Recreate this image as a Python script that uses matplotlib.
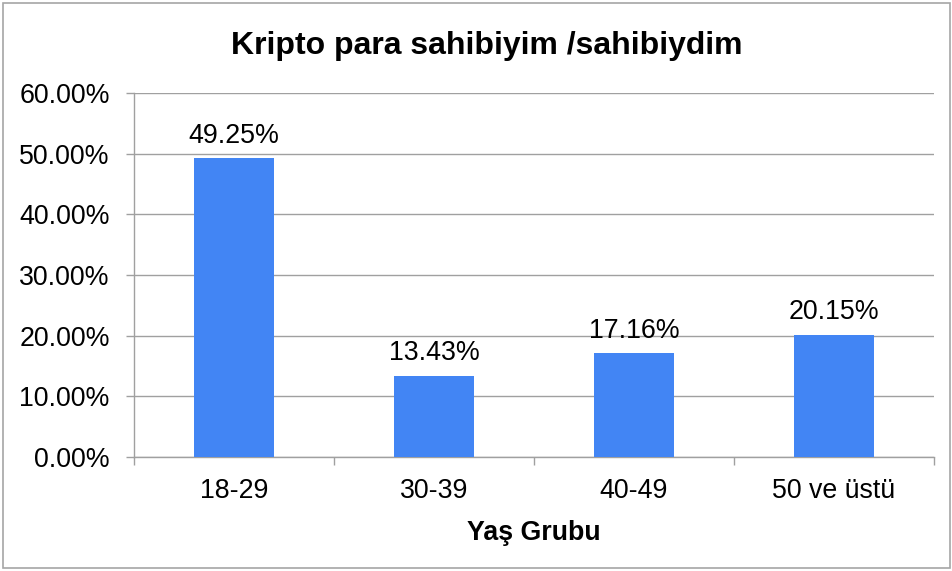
import matplotlib.pyplot as plt
from matplotlib.patches import Rectangle
from matplotlib.ticker import FixedLocator

plt.rcParams['font.family'] = ['Liberation Sans', 'DejaVu Sans']

categories = ['18-29', '30-39', '40-49', '50 ve üstü']
values = [49.25, 13.43, 17.16, 20.15]
yticks = [0, 10, 20, 30, 40, 50, 60]

W, H = 953, 571
fig = plt.figure(figsize=(W / 100, H / 100), dpi=100)
fig.patch.set_facecolor('white')
# outer chart border
fig.add_artist(Rectangle((3 / W, 3 / H), (W - 6) / W, (H - 6) / H, transform=fig.transFigure,
                         fill=False, edgecolor='#a6a6a6', linewidth=1.2))

left, right, top, bottom = 134, 934, 93, 457
ax = fig.add_axes([left / W, 1 - bottom / H, (right - left) / W, (bottom - top) / H])

grid_col = '#a0a0a0'
fs = 19.3
x = list(range(len(categories)))
ax.bar(x, values, width=0.4, color='#4285f4', zorder=3)
ax.set_xlim(-0.5, len(categories) - 0.5)
ax.set_ylim(0, 60)

ax.set_yticks(yticks)
ax.set_yticklabels([f'{v:.2f}%' for v in yticks], fontsize=fs)
ax.yaxis.grid(True, color=grid_col, linewidth=1)
ax.set_axisbelow(True)
ax.tick_params(axis='y', length=6, width=1, color=grid_col, pad=11.5)

ax.set_xticks(x)
ax.set_xticklabels(categories, fontsize=fs)
ax.tick_params(axis='x', length=0, pad=15)
ax.xaxis.set_minor_locator(FixedLocator([i - 0.5 for i in range(len(categories) + 1)]))
ax.tick_params(axis='x', which='minor', length=6, width=1, color=grid_col)

for s in ['top', 'right']:
    ax.spines[s].set_visible(False)
for s in ['left', 'bottom']:
    ax.spines[s].set_color(grid_col)
    ax.spines[s].set_linewidth(1)

for xi, v in zip(x, values):
    ax.annotate(f'{v:.2f}%', (xi, v), xytext=(0, 11), textcoords='offset points',
                ha='center', va='baseline', fontsize=fs)

ax.set_xlabel('Yaş Grubu', fontsize=fs, fontweight='bold', labelpad=12)
fig.text(487 / W, 1 - 46 / H, 'Kripto para sahibiyim /sahibiydim', ha='center', va='center',
         fontsize=23, fontweight='bold')

fig.savefig('out.png', dpi=100)
